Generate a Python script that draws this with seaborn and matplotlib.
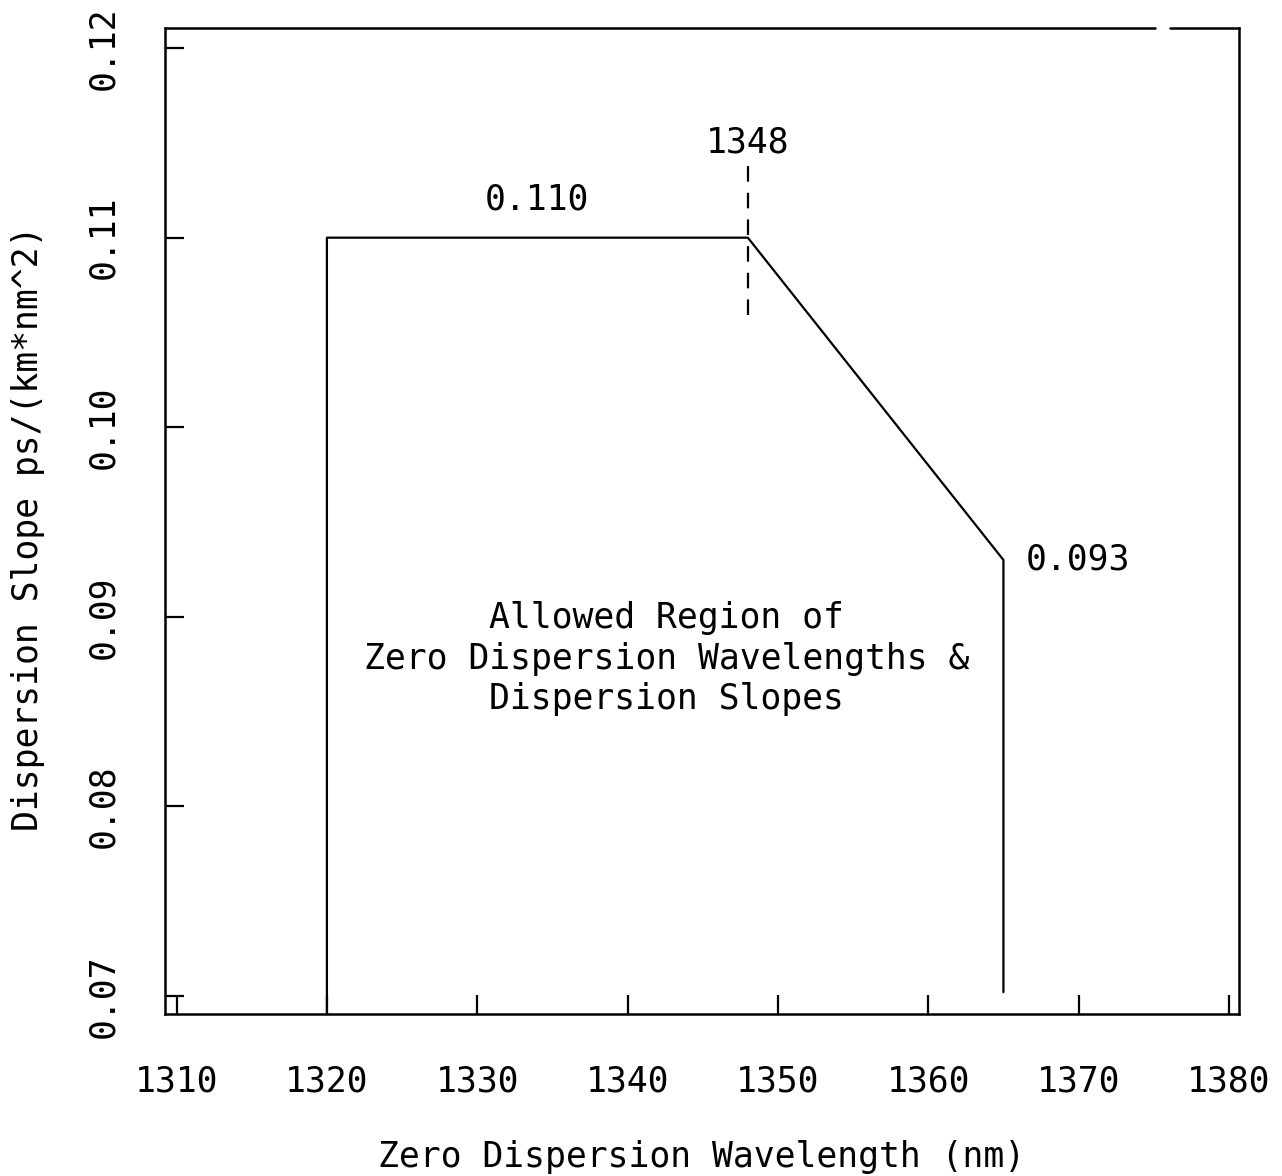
import matplotlib
matplotlib.use("Agg")
import matplotlib.pyplot as plt
import seaborn as sns
import pandas as pd

# Data
region_x = [1320, 1320, 1348, 1365, 1365]
region_y = [0.06905, 0.110, 0.110, 0.093, 0.0702]
marker_x = [1348, 1348]
marker_y = [0.1059, 0.1141]
x_ticks = [1310, 1320, 1330, 1340, 1350, 1360, 1370, 1380]
y_ticks = [0.07, 0.08, 0.09, 0.10, 0.11, 0.12]
y_tick_labels = ["0.07", "0.08", "0.09", "0.10", "0.11", "0.12"]
x_tick_labels = [str(v) for v in x_ticks]

sns.set_theme(style="white")
plt.rcParams['font.family'] = ['DejaVu Sans Mono', 'DejaVu Sans']
plt.rcParams['text.color'] = 'black'
plt.rcParams['axes.labelcolor'] = 'black'
plt.rcParams['xtick.color'] = 'black'
plt.rcParams['ytick.color'] = 'black'
FS = 25

fig = plt.figure(figsize=(12.82, 11.76), dpi=100)
ax = fig.add_axes([165/1282, 1 - 1014/1176, (1239-165)/1282, (1014-28)/1176])
fig.patch.set_facecolor("white")
ax.set_facecolor("white")

region = pd.DataFrame({"x": region_x, "y": region_y})
sns.lineplot(data=region, x="x", y="y", sort=False, estimator=None, color="black", lw=1.6, ax=ax)
marker = pd.DataFrame({"x": marker_x, "y": marker_y})
sns.lineplot(data=marker, x="x", y="y", sort=False, estimator=None, color="black", lw=1.6,
             linestyle=(0, (7, 5)), ax=ax)

ax.set_xlim(1309.23, 1380.67)
ax.set_ylim(0.06905, 0.12106)

ax.set_xticks(x_ticks)
ax.set_xticklabels(x_tick_labels, fontsize=FS, color="black")
ax.set_yticks(y_ticks)
ax.set_yticklabels(y_tick_labels, fontsize=FS, rotation=90, va="center", color="black")
ax.tick_params(axis="both", direction="in", length=14, width=1.6, color="black",
               bottom=True, left=True, top=False, right=False)
ax.tick_params(axis="x", pad=36)
ax.tick_params(axis="y", pad=32)

for s in ["left", "right", "bottom"]:
    ax.spines[s].set_color("black")
    ax.spines[s].set_linewidth(1.8)
ax.spines["top"].set_visible(False)
# top border with a small gap
ax.plot([0, (1155-165)/1074], [1, 1], transform=ax.transAxes, color="black", lw=1.8, clip_on=False)
ax.plot([(1170-165)/1074, 1], [1, 1], transform=ax.transAxes, color="black", lw=1.8, clip_on=False)

ax.set_xlabel("Zero Dispersion Wavelength (nm)", fontsize=FS, va="center", color="black")
ax.xaxis.set_label_coords(0.5, -0.145)
ax.set_ylabel("Dispersion Slope ps/(km*nm^2)", fontsize=FS, va="center", color="black")
ax.yaxis.set_label_coords(-0.1276, 0.493)

ax.text(1334.0, 0.1111, "0.110", fontsize=FS, ha="center", va="bottom", color="black")
ax.text(1348.0, 0.1150, "1348", fontsize=FS, ha="center", va="center", color="black")
ax.text(1366.5, 0.0930, "0.093", fontsize=FS, ha="left", va="center", color="black")
ax.text(1342.6, 0.0878,
        "Allowed Region of\nZero Dispersion Wavelengths &\nDispersion Slopes",
        fontsize=FS, ha="center", va="center", linespacing=1.25, color="black")

fig.savefig("out.png", dpi=100, facecolor="white")
